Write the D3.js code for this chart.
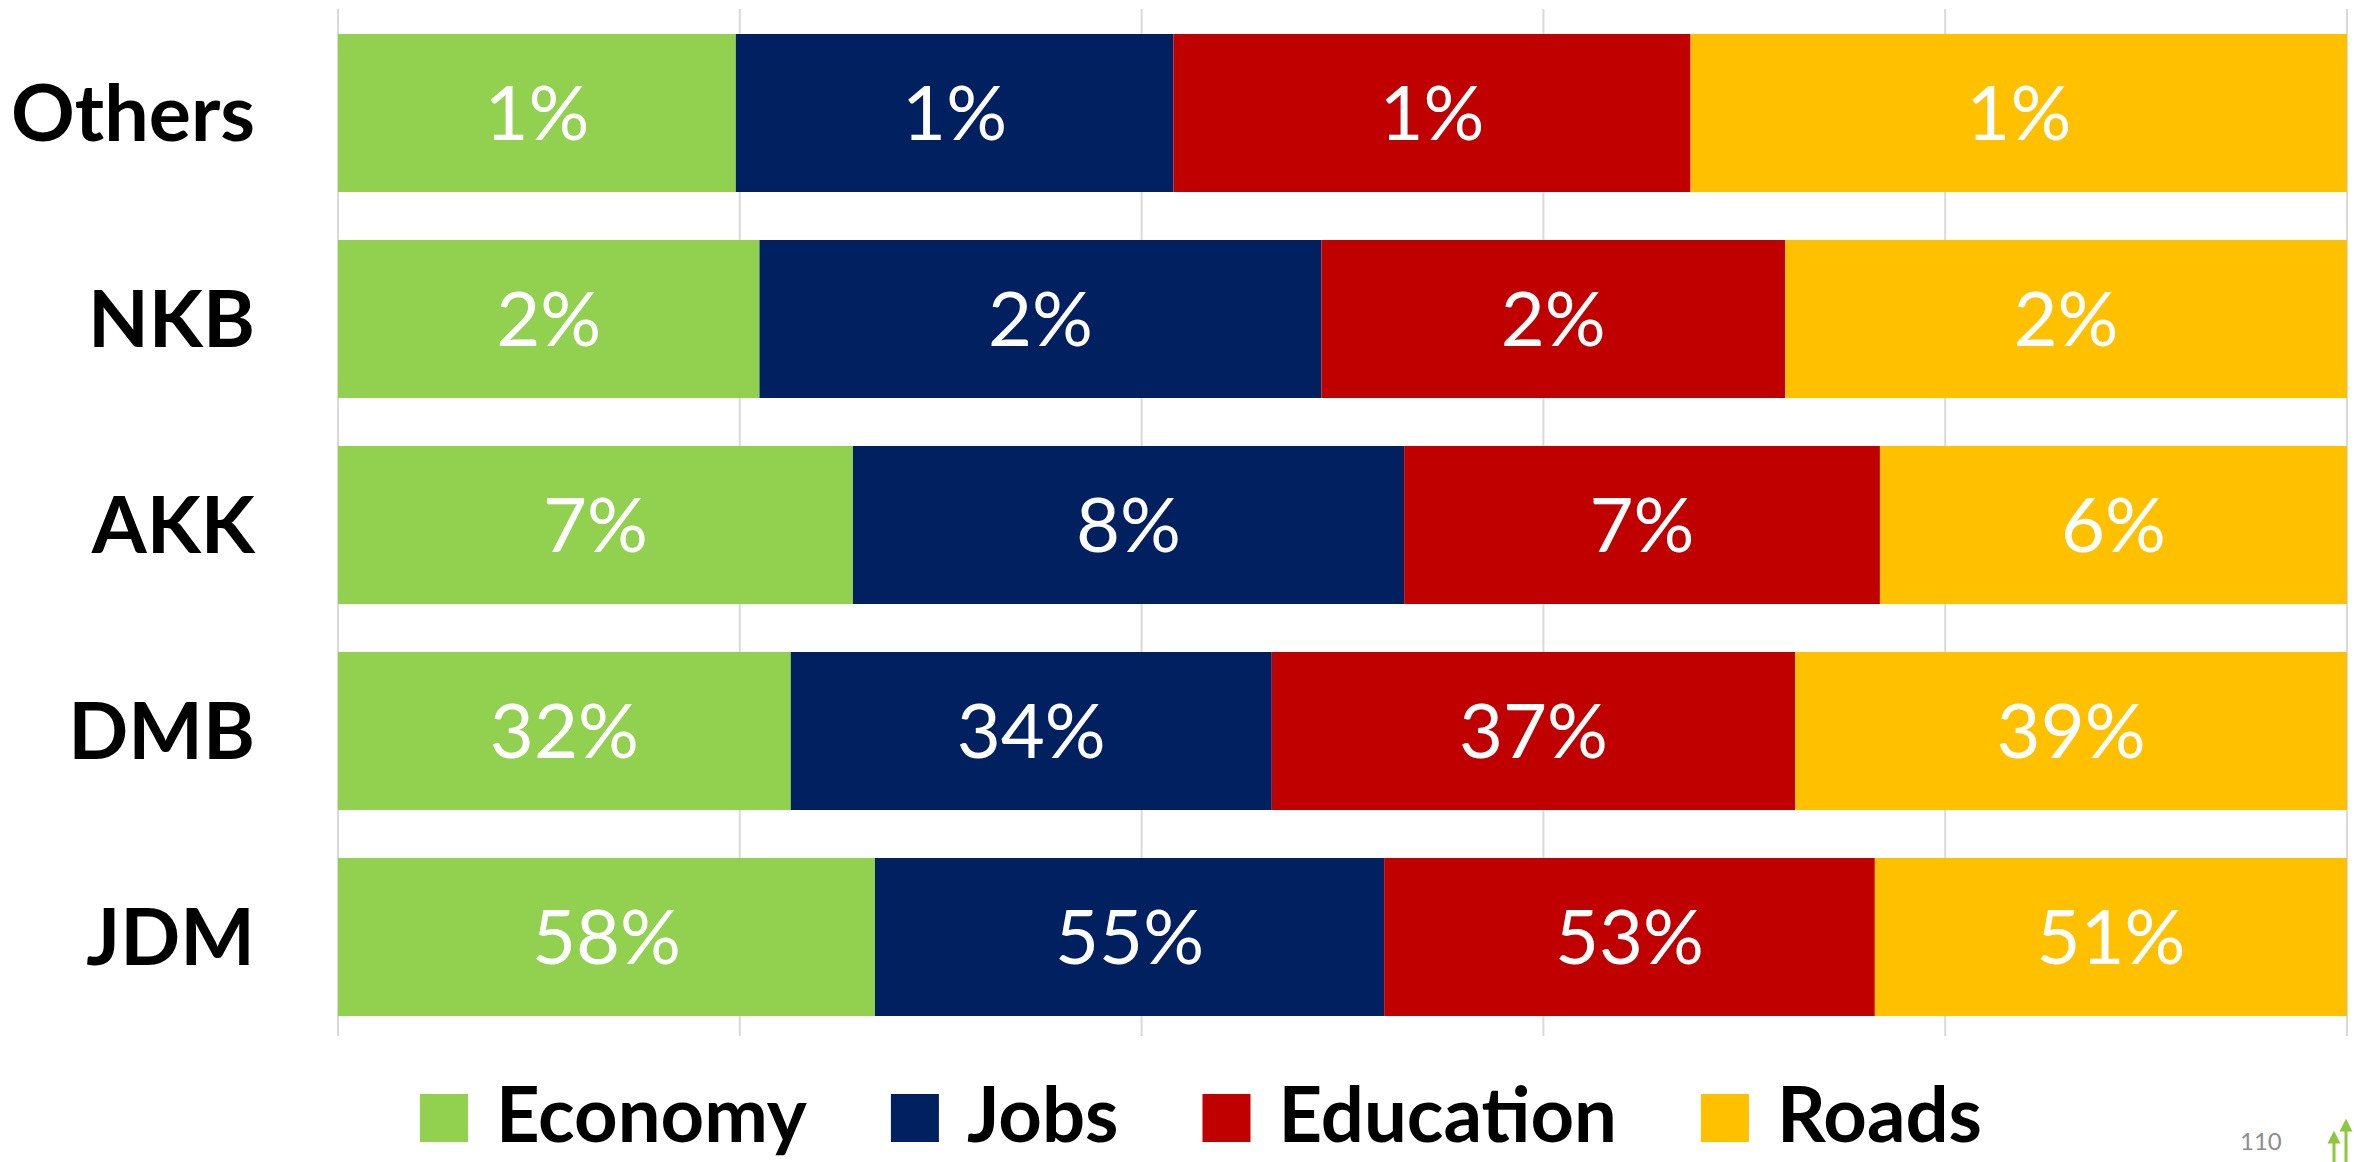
<!DOCTYPE html>
<html>
<head>
<meta charset="utf-8">
<script src="https://cdn.jsdelivr.net/npm/d3@7"></script>
<style>
  html, body { margin: 0; padding: 0; background: #fff; overflow: hidden; }
  text { font-family: Lato, "Open Sans", sans-serif; }
</style>
</head>
<body>
<svg id="chart"></svg>
<script>
var width = 2354, height = 1162;

// data (labels are rounded percentages)
var categories = ["Others", "NKB", "AKK", "DMB", "JDM"];
var seriesNames = ["Economy", "Jobs", "Education", "Roads"];
var economy   = [0.6,  1.8,  7.1,  32, 58];
var jobs      = [0.66, 2.4,  7.6,  34, 55];
var education = [0.78, 1.98, 6.56, 37, 53];
var roads     = [0.99, 2.4,  6.44, 39, 51];
var colors = ["#92D050", "#002060", "#C00000", "#FFC000"];
var gridTicks = [0, 0.2, 0.4, 0.6, 0.8, 1];

var rows = categories.map(function (c, i) {
    return { cat: c, Economy: economy[i], Jobs: jobs[i], Education: education[i], Roads: roads[i] };
});

var svg = d3.select("#chart")
    .attr("width", width)
    .attr("height", height);

var x = d3.scaleLinear().domain([0, 1]).range([338, 2347]);
var y = d3.scaleBand()
    .domain(categories)
    .range([10, 1040])
    .paddingInner(0.233)
    .paddingOuter(0.1165);
var color = d3.scaleOrdinal().domain(seriesNames).range(colors);

var stacked = d3.stack()
    .keys(seriesNames)
    .offset(d3.stackOffsetExpand)(rows);

// gridlines
svg.append("g")
    .selectAll("line")
    .data(gridTicks)
    .enter().append("line")
    .attr("x1", function (d) { return x(d); })
    .attr("x2", function (d) { return x(d); })
    .attr("y1", 9)
    .attr("y2", 1036)
    .attr("stroke", "#d9d9d9")
    .attr("stroke-width", 2);

// bars
var layer = svg.append("g")
    .selectAll("g")
    .data(stacked)
    .enter().append("g")
    .attr("fill", function (d) { return color(d.key); });

layer.selectAll("rect")
    .data(function (d) { return d.map(function (p) { p.key = d.key; return p; }); })
    .enter().append("rect")
    .attr("x", function (d) { return x(d[0]); })
    .attr("width", function (d) { return x(d[1]) - x(d[0]); })
    .attr("y", function (d) { return y(d.data.cat); })
    .attr("height", y.bandwidth());

// value labels
var valueSize = 76;
layer.selectAll("text")
    .data(function (d) { return d; })
    .enter().append("text")
    .attr("x", function (d) { return (x(d[0]) + x(d[1])) / 2; })
    .attr("y", function (d) { return y(d.data.cat) + y.bandwidth() / 2 + valueSize * 0.36; })
    .attr("text-anchor", "middle")
    .attr("fill", "#fff")
    .attr("font-size", valueSize)
    .text(function (d) { return Math.round(d.data[d.key]) + "%"; });

// category labels
var catSize = 79;
svg.append("g")
    .selectAll("text")
    .data(categories)
    .enter().append("text")
    .attr("x", 255)
    .attr("y", function (d) { return y(d) + y.bandwidth() / 2 + catSize * 0.36; })
    .attr("text-anchor", "end")
    .attr("font-size", catSize)
    .attr("font-weight", "bold")
    .attr("fill", "#000")
    .text(function (d) { return d; });

// legend
var legendSize = 76;
var legend = svg.append("g");
var item = legend.selectAll("g")
    .data(seriesNames)
    .enter().append("g");

item.append("rect")
    .attr("width", 48)
    .attr("height", 48)
    .attr("y", 1094)
    .attr("fill", function (d) { return color(d); });

item.append("text")
    .attr("x", 76)
    .attr("y", 1142)
    .attr("font-size", legendSize)
    .attr("font-weight", "bold")
    .attr("fill", "#000")
    .text(function (d) { return d; });

// place legend entries one after another, then center the group
var pos = 0;
item.each(function () {
    var g = d3.select(this);
    g.attr("transform", "translate(" + pos + ",0)");
    pos += 76 + g.select("text").node().getComputedTextLength() + 84;
});
var legendWidth = pos - 84;
legend.attr("transform", "translate(" + (1201 - legendWidth / 2) + ",0)");

// slide number and corner mark at the bottom edge
svg.append("text")
    .attr("x", 2240)
    .attr("y", 1150)
    .attr("font-size", 24)
    .attr("fill", "#8c8c8c")
    .text("110");

var mark = svg.append("g")
    .attr("stroke", "#8dc63f")
    .attr("fill", "#8dc63f")
    .attr("stroke-width", 3);
mark.append("line").attr("x1", 2334).attr("x2", 2334).attr("y1", 1140).attr("y2", 1162);
mark.append("path").attr("d", "M2330,1142 L2334,1134 L2338,1142 Z");
mark.append("line").attr("x1", 2346).attr("x2", 2346).attr("y1", 1128).attr("y2", 1162);
mark.append("path").attr("d", "M2342,1130 L2346,1122 L2350,1130 Z");
</script>
</body>
</html>
